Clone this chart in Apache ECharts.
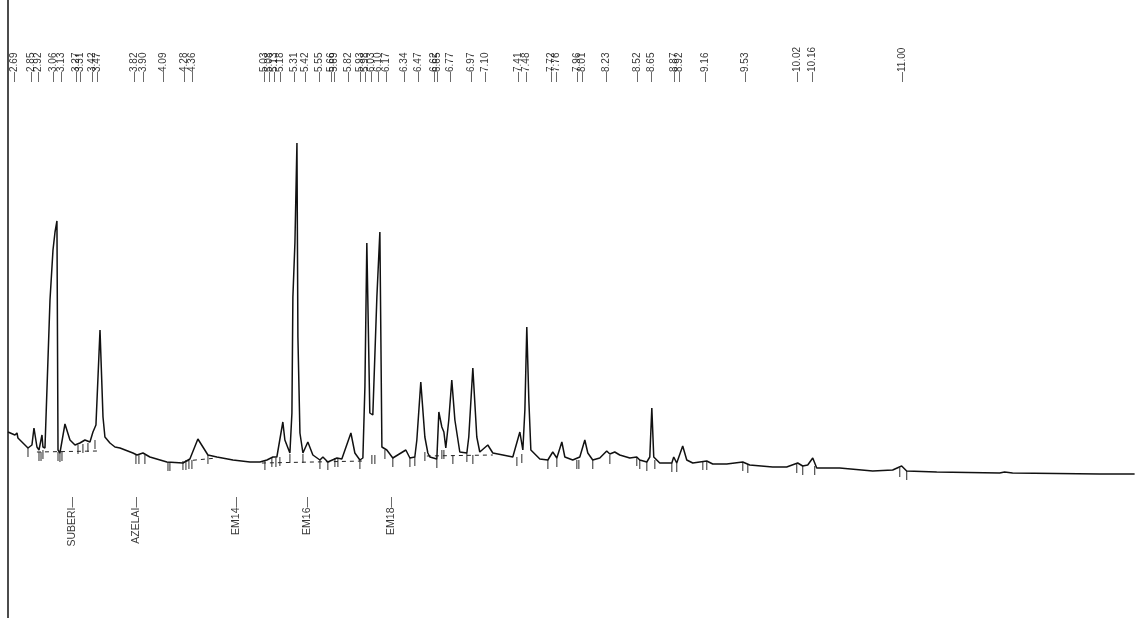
<!DOCTYPE html>
<html>
<head>
<meta charset="utf-8">
<script src="https://cdn.jsdelivr.net/npm/echarts@6/dist/echarts.min.js"></script>
<style>
  html, body { margin: 0; padding: 0; background: #fff; }
  #chart { width: 1136px; height: 618px; }
</style>
</head>
<body>
<div id="chart"></div>
<script>
// retention times printed above the trace (min)
var rtLabels = [2.69, 2.85, 2.92, 3.06, 3.13, 3.27, 3.31, 3.42, 3.47, 3.82, 3.90, 4.09, 4.28, 4.36,
  5.03, 5.08, 5.13, 5.18, 5.31, 5.42, 5.55, 5.66, 5.69, 5.82, 5.93, 5.98, 6.03, 6.10, 6.17,
  6.34, 6.47, 6.62, 6.65, 6.77, 6.97, 7.10, 7.41, 7.48, 7.72, 7.76, 7.96, 8.01, 8.23,
  8.52, 8.65, 8.87, 8.92, 9.16, 9.53, 10.02, 10.16, 11.00]

// named compounds under the trace
var compoundNames = ['SUBERI', 'AZELAI', 'EM14', 'EM16', 'EM18']
var compoundTimes = [3.23, 3.83, 4.77, 5.43, 6.22]

// detector trace
var traceTime = [2.634, 2.699, 2.718, 2.727, 2.821, 2.858, 2.877, 2.905, 2.924, 2.952, 2.961, 2.980,
  3.027, 3.055, 3.074, 3.092, 3.102, 3.120, 3.167, 3.214, 3.261, 3.307, 3.354, 3.401, 3.429,
  3.457, 3.495, 3.523, 3.541, 3.588, 3.635, 3.682, 3.803, 3.841, 3.897, 3.962, 4.121, 4.271,
  4.336, 4.411, 4.458, 4.505, 4.589, 4.739, 4.898, 4.991, 5.057, 5.113, 5.150, 5.206, 5.225,
  5.272, 5.291, 5.300, 5.319, 5.338, 5.347, 5.366, 5.394, 5.440, 5.487, 5.553, 5.581, 5.627,
  5.712, 5.758, 5.843, 5.880, 5.927, 5.955, 5.974, 5.992, 6.020, 6.048, 6.086, 6.114, 6.133,
  6.179, 6.235, 6.357, 6.395, 6.441, 6.460, 6.497, 6.535, 6.563, 6.582, 6.647, 6.666, 6.694,
  6.713, 6.731, 6.759, 6.787, 6.816, 6.862, 6.928, 6.946, 6.984, 7.021, 7.049, 7.124, 7.171,
  7.265, 7.358, 7.424, 7.452, 7.471, 7.489, 7.508, 7.527, 7.545, 7.611, 7.686, 7.732, 7.770,
  7.817, 7.845, 7.919, 7.985, 8.032, 8.060, 8.106, 8.172, 8.237, 8.266, 8.312, 8.359, 8.453,
  8.518, 8.546, 8.612, 8.640, 8.659, 8.677, 8.733, 8.846, 8.864, 8.892, 8.948, 8.986, 9.042,
  9.173, 9.229, 9.360, 9.510, 9.575, 9.790, 9.921, 10.024, 10.071, 10.118, 10.165, 10.202,
  10.417, 10.726, 10.913, 10.997, 11.044, 11.325, 11.914, 11.960, 12.035, 12.849, 13.177]
var traceSignal = [48, 45, 47, 42, 32, 35, 52, 33, 30, 45, 33, 32,
  180, 230, 248, 259, 30, 27, 56, 40, 35, 37, 40, 38, 48,
  55, 150, 63, 43, 37, 33, 32, 27, 25, 27, 23, 18, 17,
  21, 41, 33, 25, 23, 20, 18, 18, 20, 23, 23, 58, 40,
  27, 67, 183, 237, 337, 143, 47, 27, 38, 25, 20, 23, 18,
  22, 21, 47, 27, 20, 22, 93, 237, 67, 65, 183, 248, 33,
  30, 22, 30, 22, 23, 40, 98, 43, 27, 23, 21, 68, 53,
  48, 32, 60, 100, 60, 28, 27, 43, 112, 43, 28, 35, 27,
  25, 23, 48, 30, 70, 153, 80, 30, 30, 21, 20, 28, 22,
  38, 23, 20, 23, 40, 27, 20, 22, 29, 26, 28, 25, 22,
  23, 20, 18, 23, 72, 23, 17, 17, 23, 17, 34, 20, 17,
  19, 16, 16, 18, 15, 13, 13, 17, 14, 15, 22, 12,
  12, 9, 10, 14, 9, 8, 7, 8, 7, 6, 6]

// integration marks (time, signal at top of mark)
var tickTime = [2.821, 2.924, 2.943, 2.961, 3.102, 3.120, 3.139, 3.289, 3.335, 3.382, 3.448,
  3.831, 3.859, 3.915, 4.131, 4.149, 4.271, 4.299, 4.327, 4.355, 4.505, 5.038, 5.103, 5.141,
  5.178, 5.272, 5.394, 5.553, 5.627, 5.693, 5.721, 5.927, 6.039, 6.067, 6.161, 6.235, 6.395,
  6.441, 6.535, 6.647, 6.694, 6.713, 6.797, 6.928, 6.984, 7.396, 7.442, 7.686, 7.770, 7.957,
  7.976, 8.106, 8.266, 8.518, 8.546, 8.612, 8.687, 8.846, 8.892, 9.136, 9.173, 9.510, 9.557,
  10.015, 10.071, 10.183, 10.979, 11.044]
var tickSignal = [32, 28, 28, 30, 28, 27, 28, 35, 36, 37, 40,
  25, 25, 25, 18, 18, 19, 19, 20, 20, 25, 19, 22, 22,
  23, 26, 26, 20, 19, 22, 22, 20, 25, 25, 30, 22, 22,
  23, 28, 21, 30, 30, 25, 27, 25, 23, 26, 20, 22, 20,
  20, 20, 25, 23, 20, 18, 20, 17, 17, 19, 19, 18, 16,
  16, 14, 14, 12, 9]

// dashed baselines drawn under peak groups
var baseTime = [[2.905, 3.466], [4.290, 4.589], [5.010, 5.974], [6.554, 7.171]]
var baseSignal = [[28, 29], [19, 22], [17, 19], [24, 25]]

var chart = echarts.init(document.getElementById('chart'))
var font = '"Liberation Sans", Arial, sans-serif'
var topLevel = 398
var bottomLevel = -17

var series = [
  {
    type: 'line',
    data: traceTime.map(function (t, i) { return [t, traceSignal[i]] }),
    symbol: 'none',
    lineStyle: { color: '#111', width: 1.5 },
    z: 3
  },
  {
    type: 'scatter',
    data: tickTime.map(function (t, i) { return [t, tickSignal[i]] }),
    symbol: 'rect',
    symbolSize: [1.2, 9],
    symbolOffset: [0, '50%'],
    itemStyle: { color: '#222' },
    z: 2
  },
  {
    type: 'scatter',
    data: rtLabels.map(function (t) { return [t, topLevel] }),
    symbolSize: 0,
    label: {
      show: true,
      position: 'inside',
      rotate: 90,
      align: 'left',
      verticalAlign: 'middle',
      fontSize: 10,
      fontFamily: font,
      color: '#000',
      formatter: function (p) { return '\u2014' + p.value[0].toFixed(2) }
    }
  },
  {
    type: 'scatter',
    data: compoundTimes.map(function (t, i) { return { value: [t, bottomLevel], name: compoundNames[i] } }),
    symbolSize: 0,
    label: {
      show: true,
      position: 'inside',
      rotate: 90,
      align: 'right',
      verticalAlign: 'middle',
      fontSize: 10.5,
      fontFamily: font,
      color: '#000',
      formatter: function (p) { return p.name + '\u2014' }
    }
  }
]

baseTime.forEach(function (seg, i) {
  series.push({
    type: 'line',
    data: [[seg[0], baseSignal[i][0]], [seg[1], baseSignal[i][1]]],
    symbol: 'none',
    lineStyle: { color: '#222', width: 1, type: [4, 4] },
    z: 1
  })
})

chart.setOption({
  animation: false,
  backgroundColor: '#fff',
  grid: { left: 8, right: 0, top: 0, bottom: 0 },
  xAxis: {
    type: 'value',
    min: 2.634,
    max: 13.19,
    axisLine: { show: false },
    axisTick: { show: false },
    axisLabel: { show: false },
    splitLine: { show: false }
  },
  yAxis: {
    type: 'value',
    min: -138,
    max: 480,
    axisLine: { show: true, lineStyle: { color: '#111', width: 1.5 } },
    axisTick: { show: false },
    axisLabel: { show: false },
    splitLine: { show: false }
  },
  series: series
})
</script>
</body>
</html>
